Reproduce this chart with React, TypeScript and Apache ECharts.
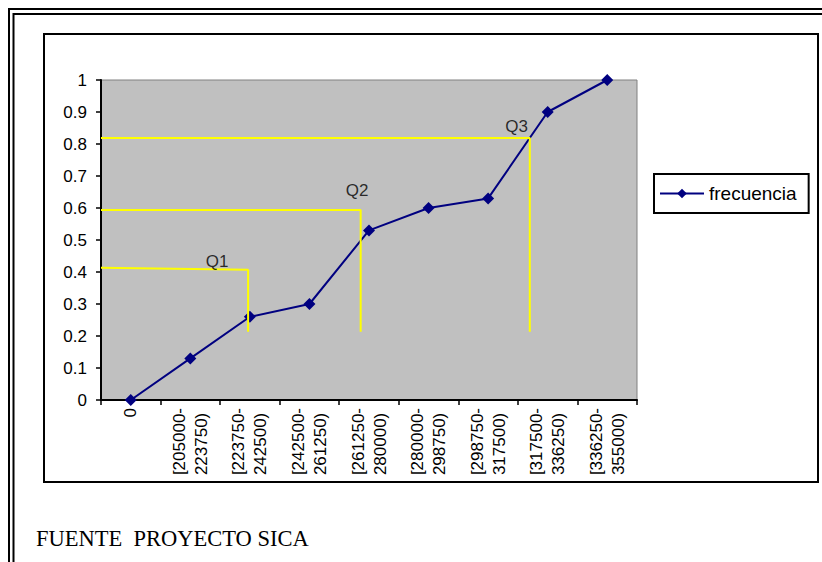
import React, { useEffect, useRef } from 'react';
import * as echarts from 'echarts';

const categories = [
  '0',
  '[205000-\n223750)',
  '[223750-\n242500)',
  '[242500-\n261250)',
  '[261250-\n280000)',
  '[280000-\n298750)',
  '[298750-\n317500)',
  '[317500-\n336250)',
  '[336250-\n355000)',
];
const frecuencia = [0, 0.13, 0.26, 0.3, 0.53, 0.6, 0.63, 0.9, 1.0];
const seriesName = 'frecuencia';

// quartile guide lines (x in category units on a helper axis 0..9)
const quartileNames = ['Q1', 'Q2', 'Q3'];
const quartileStartLevel = [0.413, 0.594, 0.819];
const quartileEndLevel = [0.407, 0.594, 0.819];
const quartileX = [2.47, 4.36, 7.2];
const quartileFloor = 0.213;
const quartileLabelX = [1.95, 4.3, 6.98];
const quartileLabelY = [0.434, 0.656, 0.856];

const footerText = 'FUENTE \u00A0PROYECTO SICA';

const SANS = "'Liberation Sans', Arial, sans-serif";
const SERIF = "'Liberation Serif', 'Times New Roman', serif";

export default function App() {
  const ref = useRef<HTMLDivElement>(null);
  useEffect(() => {
    if (!ref.current) return;
    const chart = echarts.init(ref.current, undefined, { renderer: 'svg' });

    const quartileSeries = quartileNames.map((n, i) => ({
      name: 'line-' + n,
      type: 'line',
      xAxisIndex: 1,
      yAxisIndex: 0,
      data: [
        [0, quartileStartLevel[i]],
        [quartileX[i], quartileEndLevel[i]],
        [quartileX[i], quartileFloor],
      ],
      symbol: 'none',
      silent: true,
      z: 5,
      lineStyle: { color: '#FFFF00', width: 2 },
    }));

    chart.setOption({
      animation: false,
      backgroundColor: '#ffffff',
      graphic: [
        { type: 'rect', z: -10, shape: { x: 9, y: 9, width: 840, height: 600 }, style: { fill: 'none', stroke: '#000', lineWidth: 2 } },
        { type: 'rect', z: -10, shape: { x: 13.5, y: 14, width: 840, height: 600 }, style: { fill: 'none', stroke: '#000', lineWidth: 2 } },
        { type: 'rect', z: -10, shape: { x: 44, y: 34, width: 774, height: 448 }, style: { fill: 'none', stroke: '#000', lineWidth: 2 } },
        {
          type: 'text',
          left: 36,
          top: 527,
          style: { text: footerText, font: `22.5px ${SERIF}`, fill: '#000' },
        },
      ],
      legend: {
        data: [seriesName],
        left: 654,
        top: 174,
        orient: 'vertical',
        borderColor: '#000',
        borderWidth: 2,
        padding: [10, 12, 10, 5],
        itemWidth: 44,
        itemHeight: 12,
        textStyle: { fontSize: 19, color: '#000', fontFamily: SANS },
      },
      grid: {
        left: 101,
        top: 80,
        width: 536,
        height: 320,
        show: true,
        backgroundColor: '#C0C0C0',
        borderColor: '#808080',
        borderWidth: 1,
      },
      xAxis: [
        {
          type: 'category',
          data: categories,
          boundaryGap: true,
          axisLine: { lineStyle: { color: '#000', width: 2 } },
          axisTick: { show: true, length: 5, lineStyle: { color: '#000', width: 1.5 } },
          axisLabel: {
            rotate: 90,
            margin: 8,
            interval: 0,
            formatter: (v: string) => v.split('\n').map((s) => `{l|${s}}`).join('\n'),
            rich: {
              l: { align: 'left', fontSize: 17, lineHeight: 22, fontFamily: SANS, color: '#000' },
            },
          },
        },
        { type: 'value', min: 0, max: 9, show: false },
      ],
      yAxis: {
        type: 'value',
        min: 0,
        max: 1,
        interval: 0.1,
        splitLine: { show: false },
        axisLine: { show: true, lineStyle: { color: '#000', width: 2 } },
        axisTick: { show: true, length: 5, lineStyle: { color: '#000', width: 1.5 } },
        axisLabel: { margin: 14, fontSize: 17, color: '#000', fontFamily: SANS },
      },
      series: [
        {
          name: seriesName,
          type: 'line',
          data: frecuencia,
          symbol: 'diamond',
          symbolSize: 12,
          z: 3,
          lineStyle: { color: '#000080', width: 2 },
          itemStyle: { color: '#000080' },
        },
        ...quartileSeries,
        {
          name: 'quartile-labels',
          type: 'scatter',
          xAxisIndex: 1,
          yAxisIndex: 0,
          symbolSize: 0,
          silent: true,
          z: 6,
          data: quartileNames.map((n, i) => ({ name: n, value: [quartileLabelX[i], quartileLabelY[i]] })),
          label: {
            show: true,
            position: 'inside',
            formatter: '{b}',
            fontSize: 17,
            color: '#000',
            fontFamily: SANS,
          },
        },
      ],
    });
    return () => chart.dispose();
  }, []);
  return (
    <div
      ref={ref}
      style={{ position: 'fixed', left: 0, top: 0, width: 822, height: 562, background: '#fff' }}
    />
  );
}
